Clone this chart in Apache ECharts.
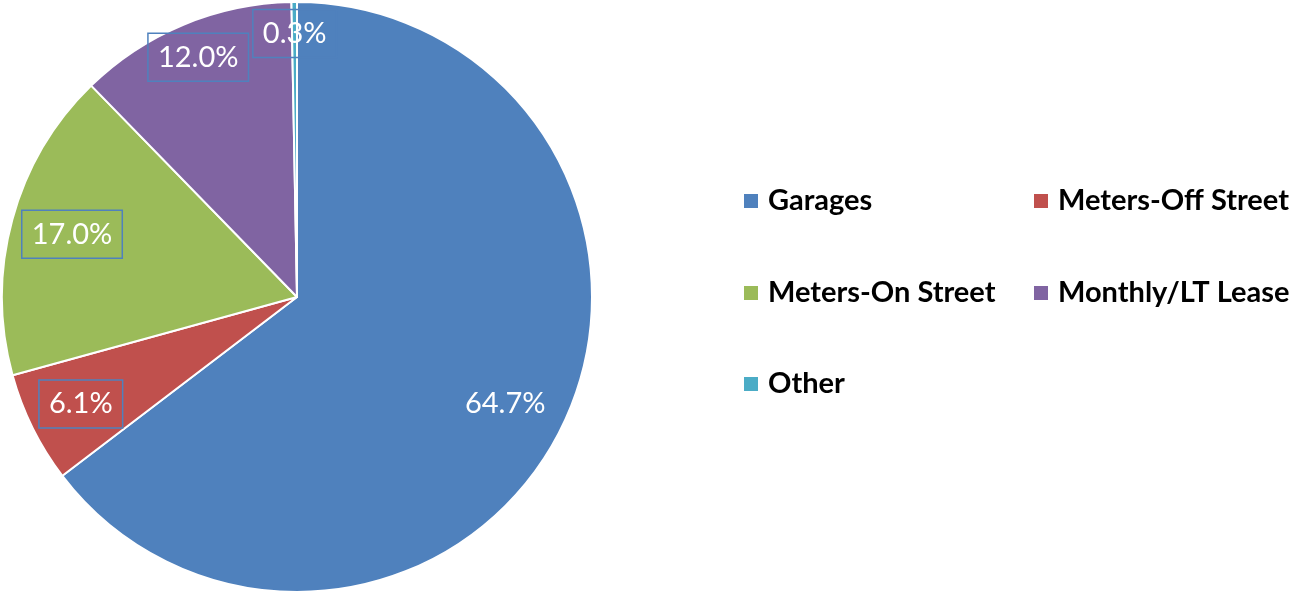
<!DOCTYPE html>
<html>
<head>
<meta charset="utf-8">
<script src="https://cdn.jsdelivr.net/npm/echarts@6/dist/echarts.min.js"></script>
<style>
  html, body { margin: 0; padding: 0; background: #fff; }
  #chart { width: 1291px; height: 594px; }
</style>
</head>
<body>
<div id="chart"></div>
<script>
// categories / values
const categories = ["Garages", "Meters-Off Street", "Meters-On Street", "Monthly/LT Lease", "Other"];
const shares = [64.7, 6.1, 17.0, 12.0, 0.3];
const colors = ["#4F81BD", "#C0504D", "#9BBB59", "#8064A2", "#4BACC6"];
// which labels get the blue box
const boxed = [false, true, true, true, true];
// small label nudges (px) to match the original's placement
const labelNudge = [[-10, -1], [2, -1], [10, 1], [-5, -15], [0, -20]];

const font = "Lato, 'Open Sans', sans-serif";

// legend grid: 2 columns, 3 rows
const legendCols = [742, 1032];
const legendRows = [201, 293, 384];

const pieData = categories.map((name, i) => ({
  name: name,
  value: shares[i],
  itemStyle: { color: colors[i] },
}));

// transparent overlay ring, only used to put the labels further out
const labelData = categories.map((name, i) => ({
  name: name,
  value: shares[i],
  itemStyle: { color: "rgba(0,0,0,0)", borderWidth: 0 },
  label: Object.assign(
    { offset: labelNudge[i] },
    boxed[i]
      ? { borderColor: "#4F81BD", borderWidth: 1.5, padding: [10, 10, 9, 10] }
      : { borderWidth: 0 }
  ),
}));

// one legend per item so the columns line up like the original
const legends = categories.map((name, i) => ({
  data: [name],
  left: legendCols[i % 2],
  top: legendRows[Math.floor(i / 2)] - 18,
  padding: 0,
  itemWidth: 16,
  itemHeight: 16,
  icon: "rect",
  selectedMode: false,
  textStyle: {
    fontFamily: font,
    fontWeight: "bold",
    fontSize: 29,
    lineHeight: 36,
    color: "#000",
    padding: [0, 0, 0, 4],
  },
}));

const chart = echarts.init(document.getElementById("chart"), null, { renderer: "canvas" });

chart.setOption({
  animation: false,
  legend: legends,
  series: [
    {
      type: "pie",
      center: [297, 297],
      radius: [0, 295],
      startAngle: 90,
      clockwise: true,
      silent: true,
      data: pieData,
      itemStyle: { borderColor: "#fff", borderWidth: 2 },
      label: { show: false },
      labelLine: { show: false },
    },
    {
      type: "pie",
      center: [297, 297],
      radius: [186, 295],
      startAngle: 90,
      clockwise: true,
      silent: true,
      data: labelData,
      label: {
        show: true,
        position: "inside",
        fontFamily: font,
        fontSize: 29,
        color: "#fff",
        formatter: (p) => p.value.toFixed(1) + "%",
      },
      labelLine: { show: false },
    },
  ],
});
</script>
</body>
</html>
